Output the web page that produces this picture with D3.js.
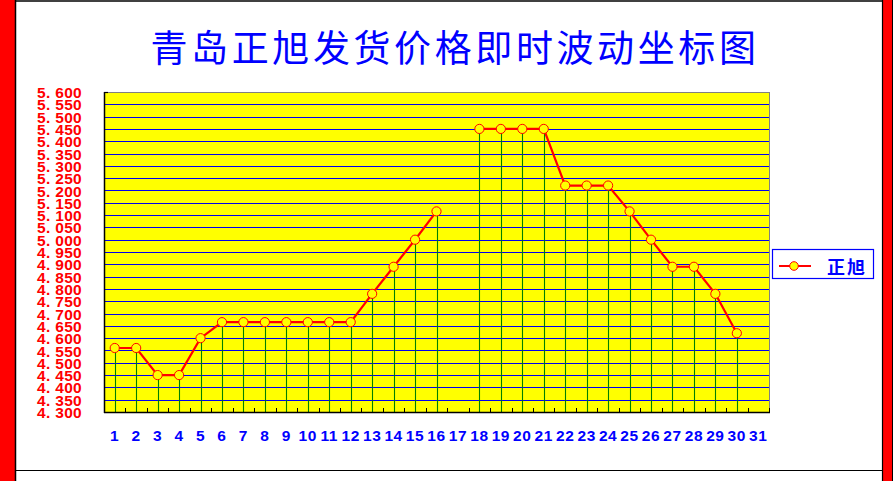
<!DOCTYPE html>
<html>
<head>
<meta charset="utf-8">
<script src="https://cdn.jsdelivr.net/npm/d3@7/dist/d3.min.js"></script>
<style>
  html, body { margin: 0; padding: 0; background: #ffffff; }
  svg { display: block; }
</style>
</head>
<body>
<svg id="chart" width="893" height="481"></svg>
<script>
// ---- data ----
const titleText = "青岛正旭发货价格即时波动坐标图";
const seriesName = "正旭";
const days = d3.range(1, 32).map(String);
const prices = [4.56, 4.56, 4.45, 4.45, 4.60, 4.665, 4.665, 4.665, 4.665, 4.665, 4.665, 4.665,
                4.78, 4.89, 5.00, 5.115, null, 5.45, 5.45, 5.45, 5.45, 5.22, 5.22, 5.22,
                5.115, 5.00, 4.89, 4.89, 4.78, 4.62, null];
const yTicks = d3.range(0, 27).map(i => +(4.3 + i * 0.05).toFixed(2));
const yDomain = [4.3, 5.6];

const data = days.map((d, i) => ({ day: d, value: prices[i] }));

// ---- layout ----
const W = 893, H = 481;
const plot = { left: 104, right: 769, top: 92, bottom: 412 };
const svg = d3.select("#chart");

// outer frame
svg.append("rect").attr("x", 0).attr("y", 0).attr("width", W).attr("height", H).attr("fill", "#ffffff");
svg.append("rect").attr("x", 0).attr("y", 0).attr("width", 15).attr("height", H).attr("fill", "#ff0000");
svg.append("rect").attr("x", 883).attr("y", 0).attr("width", 9).attr("height", H).attr("fill", "#ff0000");
svg.append("line").attr("x1", 15.5).attr("x2", 15.5).attr("y1", 0).attr("y2", H).attr("stroke", "#000").attr("stroke-width", 1.5);
svg.append("line").attr("x1", 882.5).attr("x2", 882.5).attr("y1", 0).attr("y2", H).attr("stroke", "#000").attr("stroke-width", 1.2);
svg.append("line").attr("x1", 892.5).attr("x2", 892.5).attr("y1", 0).attr("y2", H).attr("stroke", "#000").attr("stroke-width", 1);
svg.append("line").attr("x1", 15).attr("x2", 883).attr("y1", 1).attr("y2", 1).attr("stroke", "#000").attr("stroke-width", 1.5);
svg.append("line").attr("x1", 15).attr("x2", 883).attr("y1", 470.5).attr("y2", 470.5).attr("stroke", "#000").attr("stroke-width", 1.2);

// title
svg.append("text")
  .attr("x", 455).attr("y", 46)
  .attr("text-anchor", "middle")
  .attr("dominant-baseline", "central")
  .attr("font-family", "'Noto Sans CJK SC', sans-serif")
  .attr("font-size", 37)
  .attr("font-weight", 400)
  .attr("letter-spacing", "3.6px")
  .attr("fill", "#0000ff")
  .text(titleText);

// scales
const x = d3.scaleBand().domain(days).range([plot.left, plot.right]).paddingInner(0).paddingOuter(0);
const y = d3.scaleLinear().domain(yDomain).range([plot.bottom, plot.top]);
const cx = d => x(d.day) + x.bandwidth() / 2;

// plot background
svg.append("rect")
  .attr("x", plot.left).attr("y", plot.top)
  .attr("width", plot.right - plot.left).attr("height", plot.bottom - plot.top)
  .attr("fill", "#ffff00");

// horizontal gridlines
svg.append("g").selectAll("line")
  .data(yTicks.filter(t => t > yDomain[0] && t < yDomain[1]))
  .join("line")
  .attr("x1", plot.left).attr("x2", plot.right)
  .attr("y1", d => Math.round(y(d)) + 0.5).attr("y2", d => Math.round(y(d)) + 0.5)
  .attr("stroke", "#0000ee").attr("stroke-width", 1.2);

// drop lines
svg.append("g").selectAll("line")
  .data(data.filter(d => d.value != null))
  .join("line")
  .attr("x1", d => Math.round(cx(d)) + 0.5).attr("x2", d => Math.round(cx(d)) + 0.5)
  .attr("y1", d => y(d.value)).attr("y2", plot.bottom)
  .attr("stroke", "#008000").attr("stroke-width", 1.1);

// plot border: top/right grey
svg.append("line").attr("x1", plot.left).attr("x2", plot.right).attr("y1", plot.top + 0.5).attr("y2", plot.top + 0.5)
  .attr("stroke", "#808080").attr("stroke-width", 1);
svg.append("line").attr("x1", plot.right + 0.5).attr("x2", plot.right + 0.5).attr("y1", plot.top).attr("y2", plot.bottom)
  .attr("stroke", "#808080").attr("stroke-width", 1);

// x axis (ticks inside, pointing up)
const xTickPos = d3.range(0, days.length + 1).map(i => plot.left + i * x.bandwidth());
svg.append("g").selectAll("line")
  .data(xTickPos)
  .join("line")
  .attr("x1", d => Math.round(d) + 0.5).attr("x2", d => Math.round(d) + 0.5)
  .attr("y1", plot.bottom - 4).attr("y2", plot.bottom)
  .attr("stroke", "#000").attr("stroke-width", 1);
svg.append("line").attr("x1", plot.left).attr("x2", plot.right + 1).attr("y1", plot.bottom + 0.5).attr("y2", plot.bottom + 0.5)
  .attr("stroke", "#000").attr("stroke-width", 1.5);
svg.append("line").attr("x1", plot.left + 0.5).attr("x2", plot.left + 0.5).attr("y1", plot.top).attr("y2", plot.bottom + 1)
  .attr("stroke", "#000").attr("stroke-width", 1.5);
svg.append("line").attr("x1", plot.left).attr("x2", plot.left + 4).attr("y1", plot.top + 0.5).attr("y2", plot.top + 0.5)
  .attr("stroke", "#000").attr("stroke-width", 1.2);

// x labels
const xAxis = d3.axisBottom(x).tickSize(0).tickPadding(0);
const gx = svg.append("g").attr("transform", `translate(0,${plot.bottom})`).call(xAxis);
gx.select(".domain").remove();
gx.selectAll("text")
  .attr("y", 23)
  .attr("dy", "0.36em")
  .attr("font-family", "'Liberation Sans', Arial, sans-serif")
  .attr("font-size", 15.5)
  .attr("font-weight", "bold")
  .attr("letter-spacing", "0.6px")
  .attr("fill", "#0000ff");

// y labels
const yAxis = d3.axisLeft(y).tickValues(yTicks).tickSize(0).tickPadding(0)
  .tickFormat(d => d3.format(".3f")(d).replace(".", ". "));
const gy = svg.append("g").attr("transform", `translate(82,0)`).call(yAxis);
gy.select(".domain").remove();
gy.selectAll("text")
  .attr("x", 0)
  .attr("dy", "0.36em")
  .attr("font-family", "'Liberation Sans', Arial, sans-serif")
  .attr("font-size", 15.5)
  .attr("font-weight", "bold")
  .attr("letter-spacing", "0.3px")
  .attr("fill", "#ff0000")
  .style("white-space", "pre");

// series line
const line = d3.line()
  .defined(d => d.value != null)
  .x(cx)
  .y(d => y(d.value));
svg.append("path")
  .datum(data)
  .attr("d", line)
  .attr("fill", "none")
  .attr("stroke", "#ff0000")
  .attr("stroke-width", 2.2);

// markers
svg.append("g").selectAll("circle")
  .data(data.filter(d => d.value != null))
  .join("circle")
  .attr("cx", cx).attr("cy", d => y(d.value))
  .attr("r", 4.6)
  .attr("fill", "#ffff00")
  .attr("stroke", "#ff0000").attr("stroke-width", 1);

// legend
const lg = svg.append("g");
lg.append("rect").attr("x", 772.5).attr("y", 249.5).attr("width", 101).attr("height", 29)
  .attr("fill", "#ffffff").attr("stroke", "#0000ff").attr("stroke-width", 1.2);
lg.append("line").attr("x1", 779).attr("x2", 811).attr("y1", 266).attr("y2", 266)
  .attr("stroke", "#ff0000").attr("stroke-width", 2);
lg.append("circle").attr("cx", 794).attr("cy", 266).attr("r", 4.3)
  .attr("fill", "#ffff00").attr("stroke", "#ff0000").attr("stroke-width", 1);
lg.append("text").attr("x", 827).attr("y", 265.5)
  .attr("dominant-baseline", "central")
  .attr("font-family", "'Noto Sans CJK SC', sans-serif")
  .attr("font-size", 18).attr("font-weight", "bold")
  .attr("letter-spacing", "2px")
  .attr("fill", "#0000ff")
  .text(seriesName);
</script>
</body>
</html>
